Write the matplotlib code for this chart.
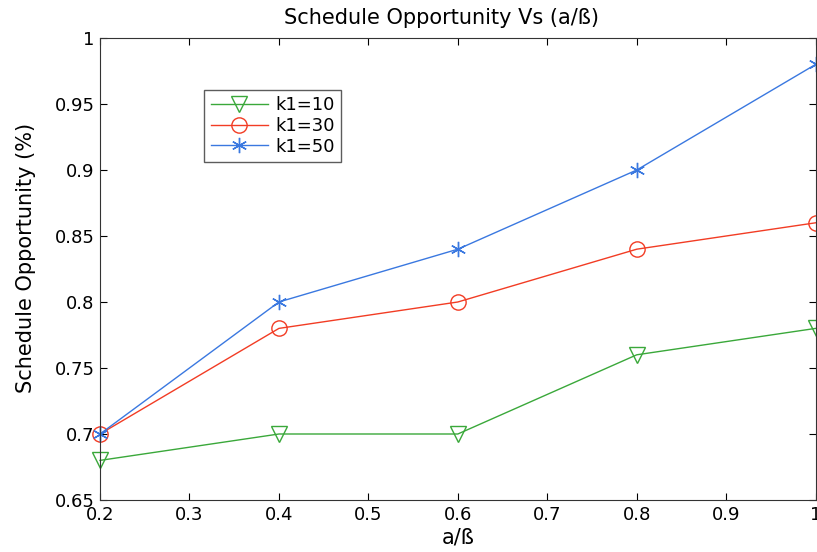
import matplotlib.pyplot as plt

plt.rcParams['font.family'] = ['DejaVu Sans']

ratio = [0.2, 0.4, 0.6, 0.8, 1.0]
k1_10 = [0.68, 0.70, 0.70, 0.76, 0.78]
k1_30 = [0.70, 0.78, 0.80, 0.84, 0.86]
k1_50 = [0.70, 0.80, 0.84, 0.90, 0.98]

fig = plt.figure(figsize=(8.17, 5.52), dpi=100)
ax = fig.add_axes([0.1224, 0.0942, 0.876, 0.837])

ax.plot(ratio, k1_10, color="#3aa83a", lw=1, marker="v", ms=11, mfc="none", mew=1, label="k1=10", clip_on=False)
ax.plot(ratio, k1_30, color="#f23c24", lw=1, marker="o", ms=11, mfc="none", mew=1, label="k1=30", clip_on=False)
ax.plot(ratio, k1_50, color="#3a78e0", lw=1, marker=(6, 2, 0), ms=11, mew=1, label="k1=50", clip_on=False)

ax.set_xlim(0.2, 1.0)
ax.set_ylim(0.65, 1.0)
ax.set_xticks([0.2, 0.3, 0.4, 0.5, 0.6, 0.7, 0.8, 0.9, 1.0])
ax.set_xticklabels(["0.2", "0.3", "0.4", "0.5", "0.6", "0.7", "0.8", "0.9", "1"])
ax.set_yticks([0.65, 0.7, 0.75, 0.8, 0.85, 0.9, 0.95, 1.0])
ax.set_yticklabels(["0.65", "0.7", "0.75", "0.8", "0.85", "0.9", "0.95", "1"])
ax.tick_params(direction="in", labelsize=13, top=True, right=True, length=5, pad=4)
for s in ax.spines.values():
    s.set_color("#333333")

ax.set_title("Schedule Opportunity Vs (a/ß)", fontsize=15, pad=10, x=0.477)
ax.set_xlabel("a/ß", fontsize=15, labelpad=3)
ax.set_ylabel("Schedule Opportunity (%)", fontsize=15)
ax.yaxis.set_label_coords(-0.09, 0.525)

ax.legend(loc="upper left", bbox_to_anchor=(0.133, 0.907), fontsize=13, frameon=True,
          fancybox=False, edgecolor="#333333", handlelength=3.2, borderpad=0.35,
          labelspacing=0.15, handletextpad=0.4)

fig.savefig("out.png", dpi=100)
